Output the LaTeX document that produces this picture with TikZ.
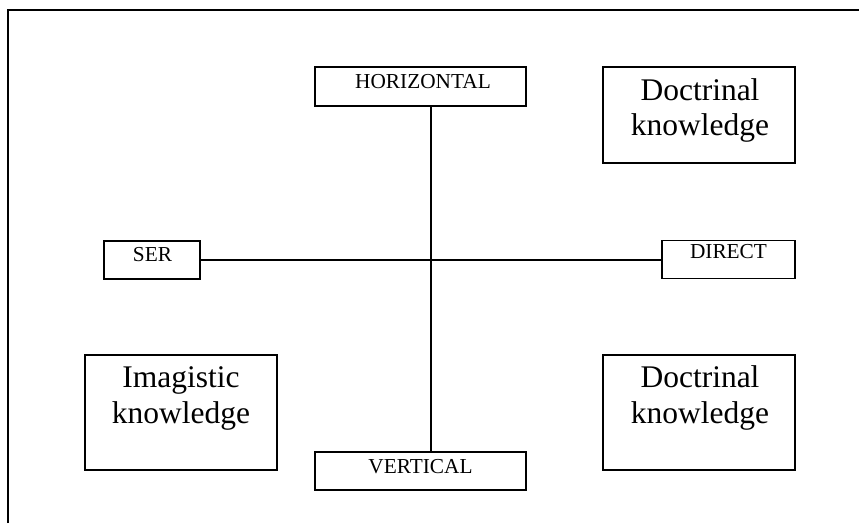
\documentclass[tikz,border=0pt]{standalone}
\usepackage{fontspec}
\setmainfont{Liberation Serif}
\begin{document}
\begin{tikzpicture}[x=1pt,y=-1pt,
  box/.style={draw=black,line width=1.6pt,inner sep=0pt,fill=none},
  small/.style={font=\fontsize{21.3}{24}\selectfont,inner sep=0pt,anchor=base},
  big/.style={font=\fontsize{31.5}{36}\selectfont,inner sep=0pt,anchor=base},
  axis/.style={line width=1.3pt}]
\useasboundingbox (0,0) rectangle (859,523);
% outer frame (cut off at right and bottom)
\draw[line width=2pt] (8,523) -- (8,10) -- (859,10);
% axis boxes
\node[box,minimum width=211pt,minimum height=39pt] (hbox) at (420.5,86.5) {};
\node[box,minimum width=211pt,minimum height=38pt] (vbox) at (420.5,471) {};
\node[box,minimum width=96pt,minimum height=38pt] (sbox) at (152,260) {};
\node[box,minimum width=133pt,minimum height=38pt] (dbox) at (728.5,259.5) {};
% knowledge boxes
\node[box,minimum width=192pt,minimum height=96pt] (dtop) at (699,115) {};
\node[box,minimum width=192pt,minimum height=115pt] (ibox) at (181,412.5) {};
\node[box,minimum width=192pt,minimum height=115pt] (dbot) at (699,412.5) {};
% labels
\node[small] (htxt) at (423,88) {HORIZONTAL};
\node[small] (vtxt) at (420.5,473) {VERTICAL};
\node[small] (stxt) at (152.5,261) {SER};
\node[small] (dtxt) at (728.5,258) {DIRECT};
\node[big] (dt1) at (700,100) {Doctrinal};
\node[big] (dt2) at (700,135) {knowledge};
\node[big] (im1) at (181,387) {Imagistic};
\node[big] (im2) at (181,423) {knowledge};
\node[big] (db1) at (700,387) {Doctrinal};
\node[big] (db2) at (700,423) {knowledge};
% axes
\draw[axis] (hbox.south -| 431,0) -- (vbox.north -| 431,0);
\draw[axis] (sbox.east) -- (sbox.east -| dbox.west);
\end{tikzpicture}
\end{document}
